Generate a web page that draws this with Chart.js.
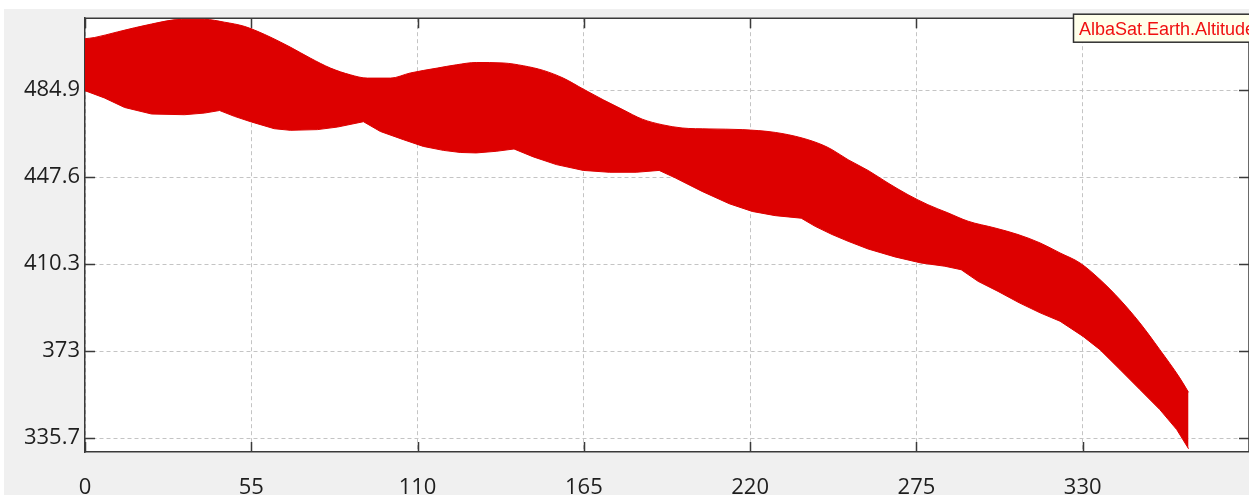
<!DOCTYPE html>
<html>
<head>
<meta charset="utf-8">
<script src="https://cdn.jsdelivr.net/npm/chart.js@4.4.0/dist/chart.umd.min.js"></script>
<style>
  html, body { margin: 0; padding: 0; background: #ffffff; overflow: hidden; }
  canvas { display: block; }
</style>
</head>
<body>
<canvas id="altChart" width="1249" height="495"></canvas>
<script>
// Orbit altitude over one year: the satellite's altitude swings between
// perigee and apogee every orbit, so the trace is drawn as its envelope band.
const seriesName = 'AlbaSat.Earth.Altitude';

const xTickValues = [0, 55, 110, 165, 220, 275, 330];
const yTickValues = [335.7, 373, 410.3, 447.6, 484.9];
const yTickLabels = ['335.7', '373', '410.3', '447.6', '484.9'];

// upper envelope (apogee side): day, altitude km
const upperDay = [0, 3.1, 10.7, 22, 31.9, 39.5, 46.1, 52.7, 59.3, 64.6,
  67.9, 74.5, 81.2, 87.8, 93.4, 101, 107.6, 116.5, 122.8, 129.4,
  138.3, 145, 151.6, 158.2, 164.8, 171.4, 178, 184.3, 190.9, 197.5,
  206.4, 217.4, 228.3, 237.2, 243.8, 247.1, 252.4, 259, 265.6, 272.2,
  278.8, 285.4, 292.1, 301, 308.6, 315.9, 322.5, 329.1, 335.7, 342.3,
  348.9, 355.5, 362.1, 365];
const upperAlt = [507.0, 507.5, 509.9, 513.3, 515.3, 515.3, 514.1, 512.3, 508.9, 505.6,
  503.4, 498.7, 494.4, 491.5, 490.1, 490.1, 492.3, 494.4, 495.8, 496.8,
  496.6, 495.4, 493.4, 490.1, 485.4, 480.8, 476.5, 472.5, 470.1, 468.7,
  468.3, 468.0, 466.8, 464.4, 461.5, 459.4, 455.1, 450.5, 445.1, 440.1,
  435.8, 432.3, 428.7, 425.8, 423.0, 419.4, 415.1, 410.8, 403.7, 395.1,
  385.1, 373.6, 361.5, 355.3];

// lower envelope (perigee side): day, altitude km
const lowerDay = [0, 6.4, 13.1, 22, 32.9, 39.5, 44.5, 49.4, 55, 62.6,
  67.9, 76.9, 83.5, 92.1, 97.7, 105.3, 111.9, 118.5, 124.1, 129.4,
  136, 141.9, 148.3, 155.9, 164.8, 173.4, 182.3, 189.9, 195.2, 204.1,
  213.1, 220.7, 228.3, 236.9, 241.5, 247.1, 252.4, 259, 267.9, 276.5,
  284.4, 289.8, 295.4, 302, 309, 315.9, 322.5, 330.1, 335.7, 342.3,
  348.9, 355.5, 361.1, 365];
const lowerAlt = [484.7, 481.6, 477.5, 474.7, 474.4, 475.1, 476.2, 473.7, 471.3, 468.4,
  467.7, 468.0, 469.1, 471.4, 467.2, 463.7, 460.8, 459.1, 458.2, 458.0,
  458.7, 459.7, 456.3, 453.0, 450.5, 449.7, 449.7, 450.5, 447.3, 441.5,
  436.2, 432.9, 431.1, 430.0, 426.5, 423.0, 420.1, 416.8, 413.4, 410.8,
  409.4, 407.9, 402.9, 398.6, 393.7, 389.4, 385.8, 379.3, 373.6, 365.1,
  356.5, 347.9, 339.3, 331.1];

const BAND_RED = '#dd0000';
const AXIS_DARK = '#3a3a3a';
const GRID_GREY = '#c4c4c4';
const LABEL_FONT = { family: 'Open Sans', size: 22 };

const toPoints = (xs, ys) => xs.map((x, i) => ({ x: x, y: ys[i] }));

// Page background, white plot box, closed frame and inward tick marks
const framePlugin = {
  id: 'frame',
  beforeDraw(chart) {
    const ctx = chart.ctx;
    const a = chart.chartArea;
    ctx.save();
    ctx.fillStyle = '#ffffff';
    ctx.fillRect(0, 0, chart.width, chart.height);
    ctx.fillStyle = '#f0f0f0';
    ctx.fillRect(4, 9, chart.width - 4, chart.height - 9);
    ctx.fillStyle = '#ffffff';
    ctx.fillRect(a.left, a.top, a.right - a.left, a.bottom - a.top);
    ctx.restore();
  },
  beforeDatasetsDraw(chart) {
    const ctx = chart.ctx;
    const a = chart.chartArea;
    const xs = chart.scales.x;
    const ys = chart.scales.y;
    const len = 10;
    ctx.save();
    ctx.strokeStyle = AXIS_DARK;
    ctx.lineWidth = 1.5;
    ctx.beginPath();
    ctx.moveTo(a.left, a.top);
    ctx.lineTo(a.right, a.top);
    ctx.moveTo(a.right, a.top);
    ctx.lineTo(a.right, a.bottom);
    xTickValues.forEach(v => {
      const px = Math.round(xs.getPixelForValue(v)) + 0.5;
      ctx.moveTo(px, a.bottom);
      ctx.lineTo(px, a.bottom - len);
      ctx.moveTo(px, a.top);
      ctx.lineTo(px, a.top + len);
    });
    yTickValues.forEach(v => {
      const py = Math.round(ys.getPixelForValue(v)) + 0.5;
      ctx.moveTo(a.left, py);
      ctx.lineTo(a.left + len, py);
      ctx.moveTo(a.right, py);
      ctx.lineTo(a.right - len, py);
    });
    ctx.stroke();
    ctx.restore();
  },
  afterDraw(chart) {
    // series legend box in the upper right corner
    const ctx = chart.ctx;
    const a = chart.chartArea;
    const bx = a.right - 175.5;
    const by = a.top - 4;
    ctx.save();
    ctx.fillStyle = '#ffffea';
    ctx.fillRect(bx, by, 220, 28);
    ctx.strokeStyle = '#303030';
    ctx.lineWidth = 1.5;
    ctx.strokeRect(bx, by, 220, 28);
    ctx.fillStyle = '#f01010';
    ctx.font = '18px "Liberation Sans", Arial, sans-serif';
    ctx.textBaseline = 'alphabetic';
    ctx.textAlign = 'left';
    ctx.fillText(seriesName, bx + 5.5, by + 20.5);
    ctx.restore();
  }
};

new Chart(document.getElementById('altChart'), {
  type: 'line',
  data: {
    datasets: [
      {
        label: seriesName,
        data: toPoints(upperDay, upperAlt),
        borderColor: BAND_RED,
        backgroundColor: BAND_RED,
        borderWidth: 1,
        pointRadius: 0,
        cubicInterpolationMode: 'monotone',
        fill: '+1'
      },
      {
        // perigee side keeps sharp corners where the orbit's phase turns over
        label: seriesName + ' (perigee)',
        data: toPoints(lowerDay, lowerAlt),
        borderColor: BAND_RED,
        backgroundColor: BAND_RED,
        borderWidth: 1,
        pointRadius: 0,
        tension: 0,
        fill: false
      }
    ]
  },
  options: {
    responsive: false,
    animation: false,
    devicePixelRatio: 1,
    layout: { padding: { top: 18, left: 0, right: 0, bottom: 0 } },
    plugins: {
      legend: { display: false },
      tooltip: { enabled: false }
    },
    scales: {
      x: {
        type: 'linear',
        min: 0,
        max: 385,
        afterBuildTicks: s => { s.ticks = xTickValues.map(v => ({ value: v })); },
        afterFit: s => { s.height = 43; },
        grid: { color: GRID_GREY, lineWidth: 1, drawTicks: false },
        border: { display: true, color: AXIS_DARK, width: 1.5, dash: [4, 3] },
        ticks: {
          autoSkip: false,
          maxRotation: 0,
          padding: 23,
          color: '#1e1e1e',
          font: LABEL_FONT,
          callback: v => String(v)
        }
      },
      y: {
        type: 'linear',
        min: 329.7,
        max: 515.8,
        afterBuildTicks: s => { s.ticks = yTickValues.map(v => ({ value: v })); },
        afterFit: s => { s.width = 85; },
        grid: { color: GRID_GREY, lineWidth: 1, drawTicks: false },
        border: { display: true, color: AXIS_DARK, width: 1.5, dash: [4, 3] },
        ticks: {
          padding: 5,
          color: '#1e1e1e',
          font: LABEL_FONT,
          callback: v => yTickLabels[yTickValues.indexOf(v)]
        }
      }
    }
  },
  plugins: [framePlugin]
});
</script>
</body>
</html>
